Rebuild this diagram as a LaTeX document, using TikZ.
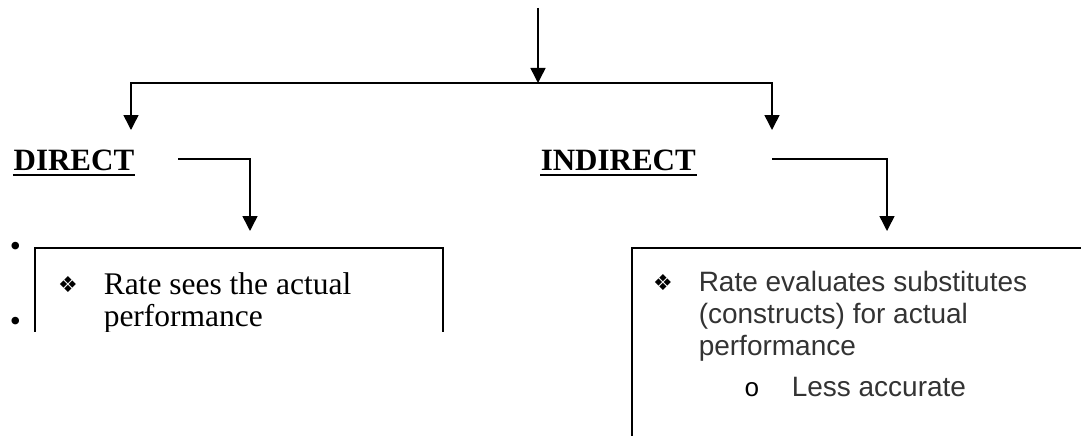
\documentclass[tikz,border=0pt]{standalone}
\usepackage{fontspec}
\setmainfont{Liberation Serif}
\newfontfamily\arialf{Liberation Sans}
\newfontfamily\dejavuf{DejaVu Sans}
\newfontfamily\courf{Liberation Mono}
\usetikzlibrary{arrows.meta}
\definecolor{rtext}{HTML}{333333}
\begin{document}
\begin{tikzpicture}[x=1pt,y=-1pt,line width=1.5pt,
  arr/.style={-{Triangle[length=15pt,width=15pt]}},
  head/.style={font=\bfseries\fontsize{31}{36}\selectfont,inner sep=0pt},
  uline/.style={line width=2.6pt},
  ltxt/.style={font=\fontsize{31.5}{36}\selectfont,anchor=base west,inner sep=0pt},
  rtxt/.style={font=\arialf\fontsize{28}{34}\selectfont,text=rtext,anchor=base west,inner sep=0pt},
  diam/.style={font=\dejavuf\fontsize{22}{26}\selectfont,anchor=base,inner sep=0pt},
  boxstyle/.style={draw,line width=1.5pt,anchor=north west,inner sep=0pt}]
\useasboundingbox (0,0) rectangle (1081,436);
\clip (0,0) rectangle (1081,436);
% top connectors
\coordinate (src) at (538,8);
\coordinate (hub) at (538,83);
\coordinate (ltip) at (131,130);
\coordinate (rtip) at (772,130);
\draw[arr] (src) -- (hub);
\draw[arr] (hub) -| (ltip);
\draw[arr] (hub) -| (rtip);
% headings
\node[head,anchor=base east] (direct) at (135,170) {DIRECT};
\node[head,anchor=base west] (indirect) at (540,170) {INDIRECT};
\draw[uline] ([yshift=-5pt]direct.base west) -- ([yshift=-5pt]direct.base east);
\draw[uline] ([yshift=-5pt]indirect.base west) -- ([yshift=-5pt]indirect.base east);
\coordinate (dstart) at (178,159);
\coordinate (dtip) at (250,231);
\coordinate (istart) at (772,159);
\coordinate (itip) at (887,231);
\draw[arr] (dstart) -| (dtip);
\draw[arr] (istart) -| (itip);
% outside bullets
\node[ltxt] (b1) at (9,256) {•};
\node[ltxt] (b2) at (9,331) {•};
% left box (cut off at bottom)
\begin{scope}
\clip (0,0) rectangle (1081,331);
\node[boxstyle,minimum width=408pt,minimum height=120pt] (lbox) at (34,247) {};
\node[diam] (ld) at (68,292) {❖};
\node[ltxt] (l1) at (103,294) {Rate sees the actual};
\node[ltxt] (l2) at (103,326) {performance};
\end{scope}
% right box (cut off at right and bottom)
\node[boxstyle,minimum width=500pt,minimum height=250pt] (rbox) at (631,247) {};
\node[diam,text=black] (rd) at (663,290) {❖};
\node[rtxt] (r1) at (698,291) {Rate evaluates substitutes};
\node[rtxt] (r2) at (698,323) {(constructs) for actual};
\node[rtxt] (r3) at (698,355) {performance};
\node[font=\courf\fontsize{26}{30}\selectfont,anchor=base,inner sep=0pt] (ro) at (752,396) {o};
\node[rtxt] (r4) at (791,396) {Less accurate};
\end{tikzpicture}
\end{document}
